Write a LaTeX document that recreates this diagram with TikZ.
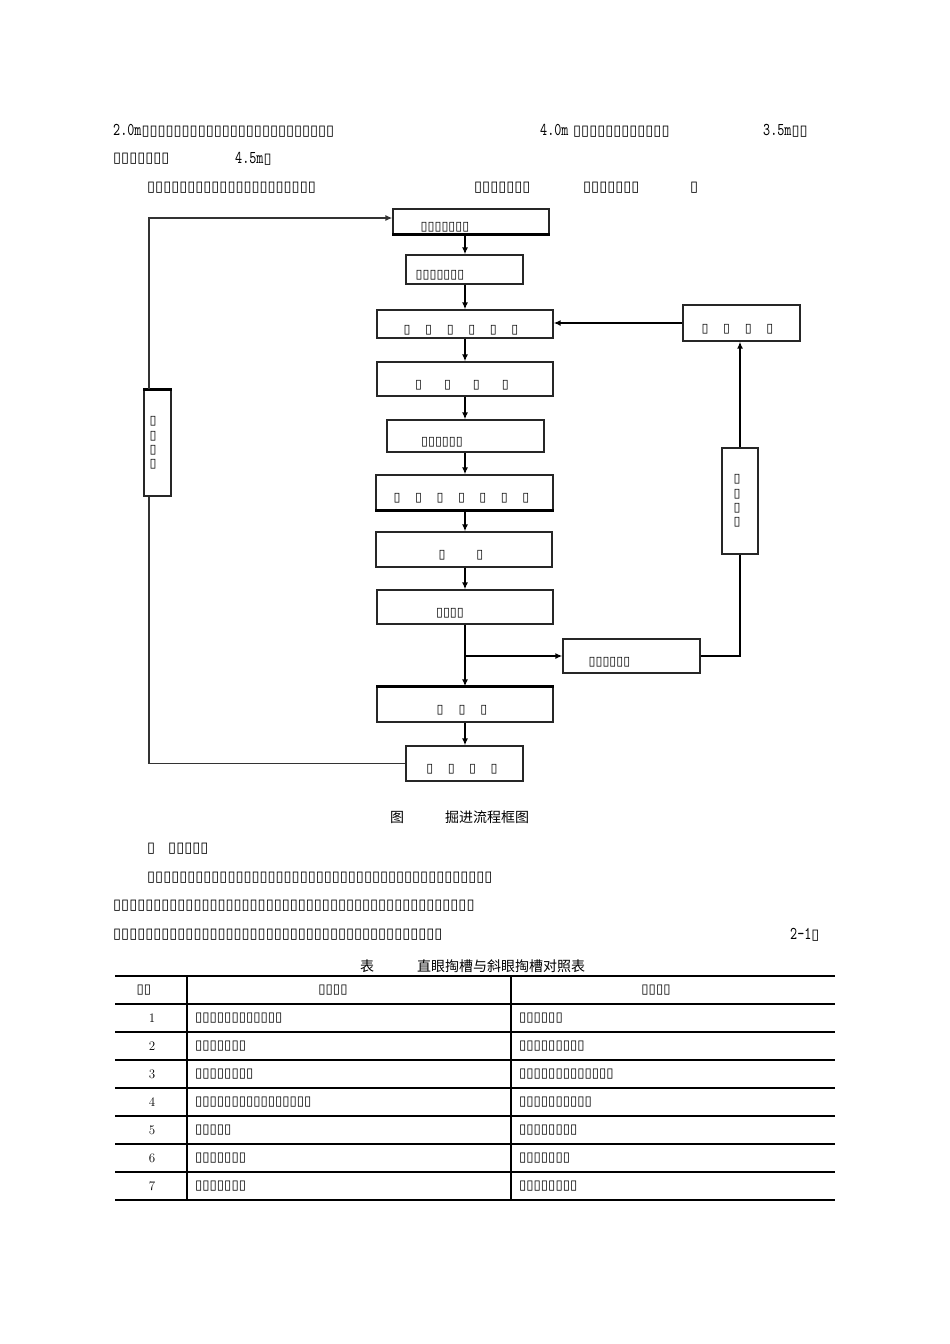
\documentclass[tikz,border=0pt]{standalone}
\usepackage{fontspec}
\usetikzlibrary{arrows.meta,positioning}
\newfontfamily\cjk{Noto Sans CJK SC}
\newfontfamily\tofu{DejaVu Sans}
\newfontfamily\latin[FakeStretch=0.75]{lmmono10-regular.otf}
\newcommand\lat[1]{{\latin\fontsize{18}{20}\selectfont #1}}
\newcommand\gap[1]{\hspace{#1pt}}

\begin{document}
\begin{tikzpicture}[
    x=1pt,
    y=-1pt,
    >={Latex[length=7pt,width=6pt]},
    box/.style={draw=black!85,line width=1.3pt,inner sep=0pt,text height=18pt,text depth=0pt,font=\tofu\fontsize{12.6}{15}\selectfont},
    vbox/.style={draw=black!85,line width=1.3pt,inner sep=0pt,align=center,font=\tofu\fontsize{12.6}{14.4}\selectfont},
    flow/.style={->,line width=1.8pt},
    back/.style={draw=black!80,line width=1.3pt},
    body/.style={anchor=west,inner sep=0pt,font=\tofu\fontsize{14.6}{16}\selectfont},
    cell/.style={inner sep=0pt,font=\tofu\fontsize{13.2}{15}\selectfont},
    num/.style={inner sep=0pt,font=\fontsize{13}{15}\selectfont},
    caption/.style={inner sep=0pt,font=\cjk\fontsize{14}{16}\selectfont}
]
  \useasboundingbox (0,0) rectangle (950,1344);

  % text above the chart
  \node[body] (t1a) at (113,131) {\lat{2.0m}▯▯▯▯▯▯▯▯▯▯▯▯▯▯▯▯▯▯▯▯▯▯▯▯};
  \node[body] (t1b) at (540,131) {\lat{4.0m} ▯▯▯▯▯▯▯▯▯▯▯▯};
  \node[body] (t1c) at (763,131) {\lat{3.5m}▯▯};
  \node[body] (t2a) at (113,159) {▯▯▯▯▯▯▯};
  \node[body] (t2b) at (235,159) {\lat{4.5m}▯};
  \node[body] (t3a) at (147,188) {▯▯▯▯▯▯▯▯▯▯▯▯▯▯▯▯▯▯▯▯▯};
  \node[body] (t3b) at (474,188) {▯▯▯▯▯▯▯};
  \node[body] (t3c) at (583,188) {▯▯▯▯▯▯▯};
  \node[body] (t3d) at (690,188) {▯};

  % flow chart
  \node[box,minimum width=156pt,minimum height=25pt] (b1) at (471,221.5) {▯▯▯▯▯▯▯\kern52pt};
  \node[box,minimum width=117pt,minimum height=29pt] (b2) at (464.5,269.5) {▯▯▯▯▯▯▯\kern49pt};
  \node[box,minimum width=176pt,minimum height=28pt] (b3) at (465,324) {▯\gap{14.6}▯\gap{14.6}▯\gap{14.6}▯\gap{14.6}▯\gap{14.6}▯\kern8pt};
  \node[box,minimum width=176pt,minimum height=34pt] (b4) at (465,379) {▯\gap{22}▯\gap{22}▯\gap{22}▯\kern6pt};
  \node[box,minimum width=157pt,minimum height=32pt] (b5) at (465.5,436) {▯▯▯▯▯▯\kern47pt};
  \node[box,minimum width=177pt,minimum height=35pt] (b6) at (464.5,492.5) {▯\gap{14.5}▯\gap{14.5}▯\gap{14.5}▯\gap{14.5}▯\gap{14.5}▯\gap{14.5}▯\kern6pt};
  \node[box,minimum width=176pt,minimum height=35pt] (b7) at (464,549.5) {▯\gap{31}▯\kern6pt};
  \node[box,minimum width=176pt,minimum height=34pt] (b8) at (465,607) {▯▯▯▯\kern30pt};
  \node[box,minimum width=137pt,minimum height=34pt] (b9) at (631.5,656) {▯▯▯▯▯▯\kern44pt};
  \node[box,minimum width=176pt,minimum height=35pt] (b10) at (465,704.5) {▯\gap{15}▯\gap{15}▯\kern6pt};
  \node[box,minimum width=117pt,minimum height=35pt] (b11) at (464.5,763.5) {▯\gap{14.5}▯\gap{14.5}▯\gap{14.5}▯\kern5pt};
  \node[box,minimum width=117pt,minimum height=36pt] (r1) at (741.5,323) {▯\gap{14.7}▯\gap{14.7}▯\gap{14.7}▯\kern8pt};
  \node[vbox,minimum width=36pt,minimum height=106pt] (r2) at (740,501) {▯\kern6pt\\▯\kern6pt\\▯\kern6pt\\▯\kern6pt};
  \node[vbox,minimum width=27pt,minimum height=106pt] (l1) at (157.5,443) {▯\kern9pt\\▯\kern9pt\\▯\kern9pt\\▯\kern9pt};

  \draw[line width=2.4pt] (b1.south west) -- (b1.south east);
  \draw[line width=2.4pt] (b6.south west) -- (b6.south east);
  \draw[line width=2.6pt] (b10.north west) -- (b10.north east);
  \draw[line width=2.6pt] (l1.north west) -- (l1.north east);

  \draw[flow] (b1.south -| b3.north) -- (b2.north -| b3.north);
  \foreach \a/\b in {b2/b3,b3/b4,b4/b5,b5/b6,b6/b7,b7/b8,b8/b10,b10/b11}
    \draw[flow] (\a.south -| b3.north) -- (\b.north -| b3.north);
  \draw[flow] (b8.south |- b9.west) -- (b9.west);
  \draw[flow,-] (b9.east) -| (r2.south);
  \draw[flow] (r2.north) -- (r2.north |- r1.south);
  \draw[flow] (r1.west) -- (r1.west -| b3.east);
  \draw[back] (b11.west) -| ([xshift=-8.5pt]l1.south);
  \draw[back,->] ([xshift=-8.5pt]l1.north) |- ([yshift=3.5pt]b1.west);

  \node[caption] (figtag) at (397,817) {图};
  \node[caption,anchor=west] (figtitle) at (445,817) {掘进流程框图};

  % text below the chart
  \node[body] (t4) at (147,849) {▯\gap{13}▯▯▯▯▯};
  \node[body] (t5) at (147,878) {▯▯▯▯▯▯▯▯▯▯▯▯▯▯▯▯▯▯▯▯▯▯▯▯▯▯▯▯▯▯▯▯▯▯▯▯▯▯▯▯▯▯▯};
  \node[body] (t6) at (113,906) {▯▯▯▯▯▯▯▯▯▯▯▯▯▯▯▯▯▯▯▯▯▯▯▯▯▯▯▯▯▯▯▯▯▯▯▯▯▯▯▯▯▯▯▯▯};
  \node[body] (t7a) at (113,935) {▯▯▯▯▯▯▯▯▯▯▯▯▯▯▯▯▯▯▯▯▯▯▯▯▯▯▯▯▯▯▯▯▯▯▯▯▯▯▯▯▯};
  \node[body] (t7b) at (790,935) {\lat{2-1}▯};

  % table
  \node[caption] (tabtag) at (367,966) {表};
  \node[caption,anchor=west] (tabtitle) at (417,966) {直眼掏槽与斜眼掏槽对照表};
  \draw[line width=2.6pt] (115,976) -- (835,976);
  \draw[line width=2.6pt] (115,1200) -- (835,1200);
  \foreach \y in {1004,1032,...,1172}
    \draw[line width=1.2pt] (115,\y) -- (835,\y);
  \draw[line width=1.2pt] (187,976) -- (187,1200);
  \draw[line width=1.2pt] (511,976) -- (511,1200);

  \node[cell] (h1) at (144,990) {▯▯};
  \node[cell] (h2) at (333,990) {▯▯▯▯};
  \node[cell] (h3) at (656,990) {▯▯▯▯};
  \foreach \i/\a/\b in {1/▯▯▯▯▯▯▯▯▯▯▯▯/▯▯▯▯▯▯,
                        2/▯▯▯▯▯▯▯/▯▯▯▯▯▯▯▯▯,
                        3/▯▯▯▯▯▯▯▯/▯▯▯▯▯▯▯▯▯▯▯▯▯,
                        4/▯▯▯▯▯▯▯▯▯▯▯▯▯▯▯▯/▯▯▯▯▯▯▯▯▯▯,
                        5/▯▯▯▯▯/▯▯▯▯▯▯▯▯,
                        6/▯▯▯▯▯▯▯/▯▯▯▯▯▯▯,
                        7/▯▯▯▯▯▯▯/▯▯▯▯▯▯▯▯} {
    \node[num] (n\i) at (152,990+28*\i) {\i};
    \node[cell,anchor=west] (a\i) at (195,990+28*\i) {\a};
    \node[cell,anchor=west] (c\i) at (519,990+28*\i) {\b};
  }
\end{tikzpicture}
\end{document}
